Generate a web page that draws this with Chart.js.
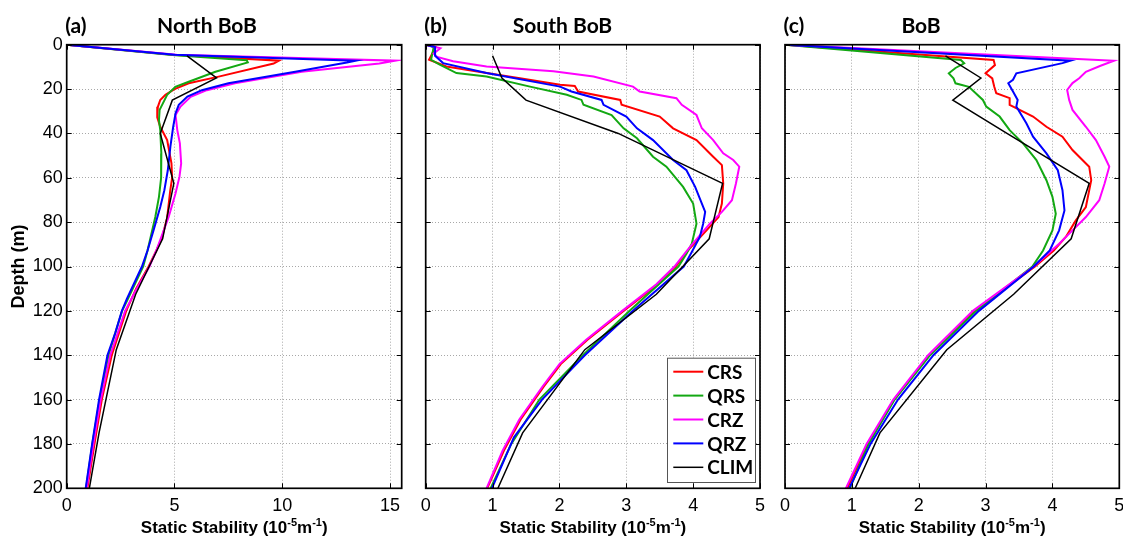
<!DOCTYPE html>
<html>
<head>
<meta charset="utf-8">
<title>Static stability profiles</title>
<script src="https://cdn.jsdelivr.net/npm/chart.js@4.4.1/dist/chart.umd.min.js"></script>
<style>
  html, body { margin: 0; padding: 0; background: #fff; }
  #wrap { position: relative; width: 1123px; height: 539px; overflow: hidden; background: #fff; }
  #wrap canvas { position: absolute; left: 0; top: 0; }
</style>
</head>
<body>
<div id="wrap">
  <canvas id="panelA" width="1123" height="539"></canvas>
  <canvas id="panelB" width="1123" height="539"></canvas>
  <canvas id="panelC" width="1123" height="539"></canvas>
</div>
<script>
// ---------------- data ----------------
// each profile is a list of [depth (m), static stability (1e-5 m^-1)]
const seriesNames = ['CRS', 'QRS', 'CRZ', 'QRZ', 'CLIM'];
const panelTags = ['(a)', '(b)', '(c)'];
const panelNames = ['North BoB', 'South BoB', 'BoB'];
const depthTicks = [0, 20, 40, 60, 80, 100, 120, 140, 160, 180, 200];
const northTicks = [0, 5, 10, 15];
const southTicks = [0, 1, 2, 3, 4, 5];
const bobTicks = [0, 1, 2, 3, 4, 5];

// North BoB
const northCRS = [[0,0],[4.5,4.9],[7.2,9.85],[8.5,9.6],[14.4,7.05],[17.4,5.66],[20,5.0],[22.6,4.58],[24.9,4.34],[28,4.23],[32.7,4.2],[37,4.34],[43,4.66],[53.5,4.86],[60,4.89],[66,4.8],[78,4.66],[87,4.42],[93,4.15],[100,3.8],[110,3.22],[120,2.76],[140,2.09],[160,1.63],[180,1.29],[200,0.96]];
const northQRS = [[0,0],[4.7,4.9],[7,8.35],[8,8.4],[12.2,6.9],[16.7,5.66],[19,5.04],[22.6,4.66],[29.4,4.31],[34,4.28],[38.5,4.34],[49,4.39],[60,4.38],[68.6,4.28],[77.7,4.11],[92.8,3.75],[100,3.55],[115,2.82],[120,2.57],[140,1.94],[160,1.53],[180,1.19],[200,0.9]];
const northCRZ = [[0,0],[4.5,5.1],[7.2,15.25],[8.5,14.5],[12.2,10.9],[17.4,7.8],[20.5,6.5],[23.5,5.75],[27.9,5.28],[31.7,5.05],[38.5,5.13],[44.5,5.25],[53.5,5.31],[59.6,5.23],[67,5.05],[77.7,4.73],[88,4.34],[93,4.15],[100,3.84],[110,3.25],[120,2.71],[140,2.02],[160,1.58],[180,1.24],[200,0.93]];
const northQRZ = [[0,0],[4.5,5.0],[7.2,13.4],[8,13.0],[12.2,10.6],[17.4,7.5],[20.5,6.27],[23.4,5.6],[27.1,5.2],[30.9,5.05],[37,4.94],[46,4.81],[56.6,4.69],[65.6,4.53],[73.2,4.34],[83.7,4.03],[92.8,3.75],[100,3.49],[114.6,2.79],[120,2.56],[130,2.25],[140,1.89],[160,1.5],[180,1.18],[200,0.88]];
const northCLIM = [[5,5.58],[15,6.95],[25,4.9],[40,4.34],[62.5,4.97],[87.5,4.45],[112.5,3.2],[137.5,2.3],[175,1.5],[200,1.05]];

// South BoB
const southCRS = [[0,0],[1,0.15],[6.8,0.05],[9.8,0.31],[12.8,0.91],[15.1,1.41],[18.1,2.01],[18.6,2.23],[21.1,2.28],[24.9,2.91],[27.1,2.93],[32.4,3.5],[37.7,3.7],[43,4.05],[50.5,4.3],[54.3,4.43],[62.6,4.45],[71.6,4.43],[77.7,4.38],[83.7,4.2],[92.8,3.92],[100,3.74],[108,3.47],[120,2.96],[133,2.42],[144,2.02],[154,1.77],[169,1.42],[183,1.17],[200,0.92]];
const southQRS = [[0,0],[1,0.12],[6.8,0.08],[9,0.21],[12.8,0.46],[14.3,0.91],[18.9,1.56],[22.6,2.11],[24.9,2.33],[27.1,2.36],[31.7,2.78],[37.7,2.96],[42.2,3.16],[50.5,3.4],[55,3.6],[64.1,3.85],[71.6,4.0],[80.7,4.05],[89.7,3.98],[94.3,3.9],[100,3.78],[120,3.05],[140,2.35],[160,1.7],[180,1.28],[200,0.97]];
const southCRZ = [[0,0],[1.6,0.22],[4,0.12],[5.5,0.17],[7.5,0.41],[9.8,0.91],[12,1.91],[14.3,2.51],[18.9,3.1],[21.1,3.2],[24.1,3.75],[27.1,3.83],[31.7,4.05],[37.7,4.13],[43,4.3],[49,4.45],[52,4.6],[55,4.69],[62.6,4.64],[70.1,4.58],[75.4,4.43],[80.7,4.25],[91.3,3.95],[100,3.72],[108,3.45],[120,2.94],[133,2.4],[144,2.0],[154,1.75],[169,1.4],[183,1.15],[200,0.91]];
const southQRZ = [[0,0],[1,0.14],[5,0.14],[8.3,0.26],[12.8,0.91],[18.9,2.01],[21.1,2.18],[24.9,2.63],[27.1,2.66],[32.4,3.0],[37.7,3.16],[43,3.4],[52,3.7],[56.6,3.9],[64.1,4.03],[75.4,4.18],[80.7,4.15],[86.7,4.1],[93.5,3.98],[100,3.86],[120,3.1],[140,2.38],[160,1.74],[177,1.32],[200,0.99]];
const southCLIM = [[5,1.0],[15,1.14],[25,1.5],[40,2.88],[62.5,4.44],[87.5,4.24],[112.5,3.45],[137.5,2.38],[175,1.45],[200,1.08]];

// BoB
const bobCRS = [[0,0],[6.9,3.12],[9.2,3.14],[12.9,3.0],[15.2,3.1],[19,3.13],[21.9,3.16],[24.1,3.36],[27.1,3.36],[32.4,3.71],[37,3.91],[41.5,4.15],[47.5,4.3],[55,4.55],[61.1,4.58],[73.2,4.5],[79.2,4.35],[86.7,4.2],[92.8,4.02],[100,3.74],[120,2.84],[140,2.16],[160,1.63],[180,1.24],[200,0.93]];
const bobQRS = [[0,0],[6.9,2.63],[8.4,2.68],[10.5,2.55],[12.9,2.45],[15.2,2.52],[17.4,2.55],[19,2.75],[24.9,2.96],[27.9,3.01],[32.4,3.21],[38.5,3.36],[44.5,3.56],[52,3.76],[61.1,3.91],[68.6,4.0],[76.2,4.05],[83.7,4.0],[92.8,3.86],[100,3.7],[120,2.86],[140,2.17],[160,1.64],[180,1.25],[200,0.97]];
const bobCRZ = [[0,0],[7.2,4.92],[9.5,4.72],[12.2,4.5],[15.1,4.4],[17.3,4.3],[20.4,4.22],[24.9,4.25],[29.4,4.3],[37,4.5],[43,4.65],[50.5,4.78],[55,4.85],[62.6,4.78],[70.1,4.7],[77.7,4.5],[83.7,4.3],[89.7,4.1],[100,3.72],[120,2.81],[140,2.14],[160,1.62],[180,1.22],[200,0.91]];
const bobQRZ = [[0,0],[7.2,4.27],[8.3,4.15],[12.9,3.46],[15.8,3.41],[17.4,3.34],[21.1,3.41],[24.9,3.48],[27.9,3.46],[35.4,3.61],[41.5,3.71],[49,3.91],[56.6,4.08],[65.6,4.15],[74.7,4.18],[83.7,4.1],[92.8,3.96],[100,3.72],[120,2.9],[140,2.22],[160,1.69],[180,1.28],[200,0.96]];
const bobCLIM = [[5,2.4],[15,2.93],[25,2.51],[40,3.32],[62.5,4.55],[87.5,4.28],[112.5,3.42],[137.5,2.42],[175,1.42],[200,1.05]];

// ---------------- styling / layout ----------------
const W = 1123, H = 539;
const PLOT_TOP = 44.7, PLOT_BOTTOM = 488.3;
const lineColors = ['#ff0000', '#13a813', '#ff00ff', '#0000ff', '#000000'];
const lineWidths = [2, 2, 2, 2, 1.5];
const TICK_FONT = { family: '"Liberation Sans", Arial, sans-serif', size: 18 };
const TITLE_FONT = 'Lato, "Open Sans", sans-serif';

const panels = [
  { canvas: 'panelA', left: 66.7, right: 401.7, xmax: 15.54, xTicks: northTicks,
    series: [northCRS, northQRS, northCRZ, northQRZ, northCLIM], showDepth: true, nameX: 207, legend: false },
  { canvas: 'panelB', left: 425.7, right: 760, xmax: 5, xTicks: southTicks,
    series: [southCRS, southQRS, southCRZ, southQRZ, southCLIM], showDepth: false, nameX: 562.5, legend: true },
  { canvas: 'panelC', left: 785, right: 1119.3, xmax: 5, xTicks: bobTicks,
    series: [bobCRS, bobQRS, bobCRZ, bobQRZ, bobCLIM], showDepth: false, nameX: 921, legend: false }
];

// x-axis label with raised exponents
function drawStabilityLabel(ctx, cx, baseline) {
  const parts = [
    { t: 'Static Stability (10', s: 17, dy: 0 },
    { t: '-5', s: 11, dy: -7 },
    { t: 'm', s: 17, dy: 0 },
    { t: '-1', s: 11, dy: -7 },
    { t: ')', s: 17, dy: 0 }
  ];
  let total = 0;
  parts.forEach(p => {
    ctx.font = 'bold ' + p.s + 'px "Liberation Sans", Arial, sans-serif';
    p.w = ctx.measureText(p.t).width;
    total += p.w;
  });
  let xx = cx - total / 2;
  ctx.textAlign = 'left';
  ctx.textBaseline = 'alphabetic';
  parts.forEach(p => {
    ctx.font = 'bold ' + p.s + 'px "Liberation Sans", Arial, sans-serif';
    ctx.fillText(p.t, xx, baseline + p.dy);
    xx += p.w;
  });
}

// box frame, inward ticks on all four sides, panel headings, x label, legend
const panelDecor = {
  id: 'panelDecor',
  afterDraw(chart, args, opts) {
    const { ctx, chartArea: a, scales: { x, y } } = chart;
    ctx.save();
    ctx.strokeStyle = '#000';
    ctx.lineWidth = 1;
    ctx.beginPath();
    x.ticks.forEach(t => {
      const px = Math.round(x.getPixelForValue(t.value)) + 0.5;
      ctx.moveTo(px, a.bottom); ctx.lineTo(px, a.bottom - 5);
      ctx.moveTo(px, a.top); ctx.lineTo(px, a.top + 5);
    });
    y.ticks.forEach(t => {
      const py = Math.round(y.getPixelForValue(t.value)) + 0.5;
      ctx.moveTo(a.left, py); ctx.lineTo(a.left + 5, py);
      ctx.moveTo(a.right, py); ctx.lineTo(a.right - 5, py);
    });
    ctx.stroke();
    ctx.lineWidth = 1.7;
    ctx.strokeRect(a.left, a.top, a.right - a.left, a.bottom - a.top);

    // headings
    ctx.fillStyle = '#000';
    ctx.font = 'bold 21px ' + TITLE_FONT;
    ctx.textBaseline = 'alphabetic';
    ctx.textAlign = 'left';
    ctx.fillText(opts.tag, a.left - 1.5, 33);
    ctx.textAlign = 'center';
    ctx.fillText(opts.name, opts.nameX, 32.5);

    drawStabilityLabel(ctx, (a.left + a.right) / 2, 533);

    if (opts.legend) {
      const bx = 667, by = 357.7, bw = 88, bh = 124.3;
      ctx.fillStyle = '#fff';
      ctx.fillRect(bx, by, bw, bh);
      ctx.strokeStyle = '#555';
      ctx.lineWidth = 1;
      ctx.strokeRect(bx + 0.5, by + 0.5, bw, bh);
      ctx.font = 'bold 19px ' + TITLE_FONT;
      ctx.textAlign = 'left';
      ctx.textBaseline = 'middle';
      chart.data.datasets.forEach((ds, i) => {
        const ly = by + 14 + i * 23.9;
        ctx.strokeStyle = ds.borderColor;
        ctx.lineWidth = ds.borderWidth;
        ctx.beginPath();
        ctx.moveTo(673.3, ly); ctx.lineTo(703.3, ly);
        ctx.stroke();
        ctx.fillStyle = '#000';
        ctx.fillText(ds.label, 707.3, ly + 1);
      });
    }
    ctx.restore();
  }
};

const tickSetter = values => scale => { scale.ticks = values.map(v => ({ value: v })); };

panels.forEach((p, k) => {
  const datasets = p.series.map((s, i) => ({
    label: seriesNames[i],
    data: s.map(([d, v]) => ({ x: v, y: d })),
    borderColor: lineColors[i],
    backgroundColor: lineColors[i],
    borderWidth: lineWidths[i],
    showLine: true,
    pointRadius: 0,
    tension: 0,
    fill: false,
    order: seriesNames.length - i
  }));

  const yWidth = p.showDepth ? p.left : 0;
  new Chart(document.getElementById(p.canvas), {
    type: 'scatter',
    data: { datasets },
    options: {
      responsive: false,
      animation: false,
      devicePixelRatio: 1,
      layout: {
        padding: { left: p.left - yWidth, right: W - p.right, top: PLOT_TOP, bottom: 0 }
      },
      plugins: {
        legend: { display: false },
        title: { display: false },
        tooltip: { enabled: false },
        panelDecor: { tag: panelTags[k], name: panelNames[k], nameX: p.nameX, legend: p.legend }
      },
      scales: {
        x: {
          type: 'linear',
          position: 'bottom',
          min: 0,
          max: p.xmax,
          afterBuildTicks: tickSetter(p.xTicks),
          afterFit: s => { s.height = H - PLOT_BOTTOM; s.paddingLeft = 0; s.paddingRight = 0; },
          grid: { color: '#a8a8a8', lineWidth: 1, drawTicks: false },
          border: { display: false, dash: [1, 2] },
          ticks: { font: TICK_FONT, color: '#000', padding: 7, maxRotation: 0 },
          title: { display: false }
        },
        y: {
          type: 'linear',
          position: 'left',
          min: 0,
          max: 200,
          reverse: true,
          afterBuildTicks: tickSetter(depthTicks),
          afterFit: s => { s.width = yWidth; },
          grid: { color: '#a8a8a8', lineWidth: 1, drawTicks: false },
          border: { display: false, dash: [1, 2] },
          ticks: { display: p.showDepth, font: TICK_FONT, color: '#000', padding: 4 },
          title: {
            display: p.showDepth,
            text: 'Depth (m)',
            font: { family: '"Liberation Sans", Arial, sans-serif', size: 18, weight: 'bold' },
            color: '#000',
            padding: { top: 8.7, bottom: 0 }
          }
        }
      }
    },
    plugins: [panelDecor]
  });
});
</script>
</body>
</html>
